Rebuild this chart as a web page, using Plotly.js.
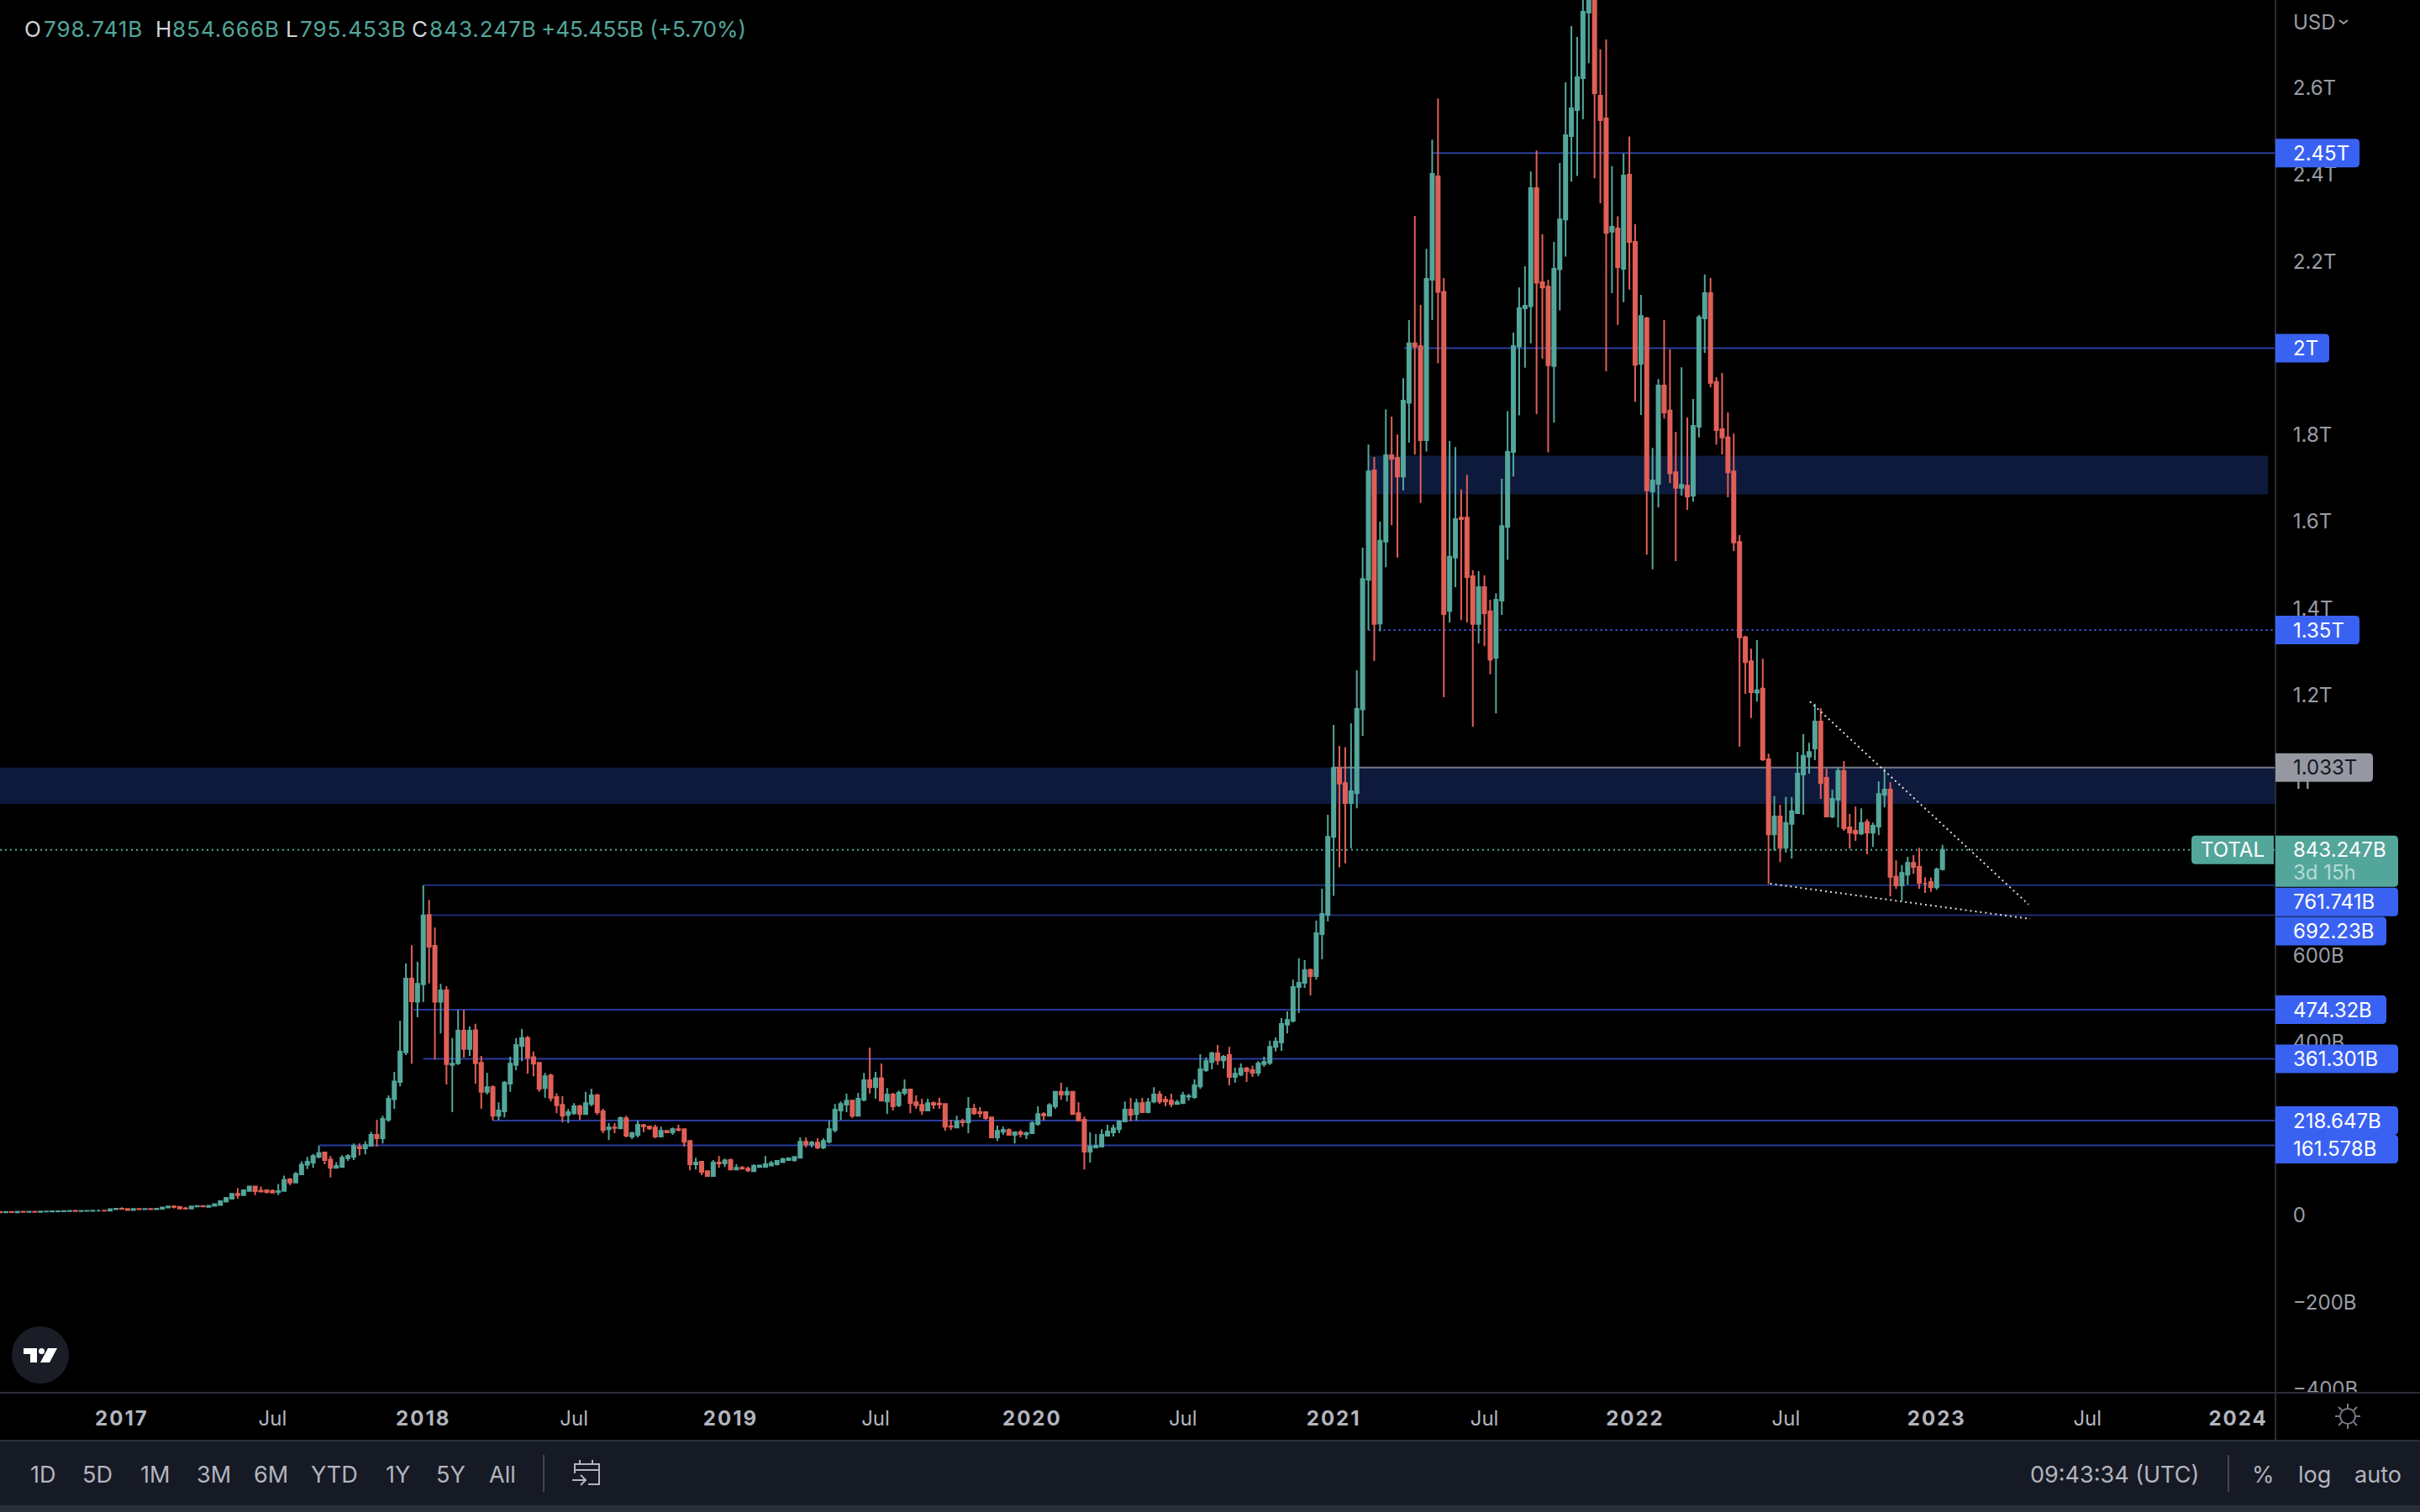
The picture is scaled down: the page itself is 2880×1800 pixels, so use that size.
<!DOCTYPE html>
<html>
<head>
<meta charset="utf-8">
<script src="https://cdn.plot.ly/plotly-3.0.1.min.js"></script>
<style>html,body{margin:0;padding:0;background:#000;overflow:hidden}#chart{width:2880px;height:1800px}</style>
</head>
<body>
<div id="chart"></div>
<script>
// Weekly TOTAL crypto market cap candles, USD billions, one value per week from firstWeek
const firstWeek = '2016-08-08';
const weekOpen = [
8.2,7.1,8,7.2,8.6,8.2,8.8,8.4,9,9.2,
9.4,9.6,10.2,10.6,10.2,10.6,10.8,11,11,10.9,
14.5,15.4,15,12.4,15,14.4,15,14.6,15.5,18.2,
20.8,20,16.2,15.8,20.8,21.6,20,22,24,32,
38.5,50,47,56.6,67,57,58,56.6,54,56.6,
83,76,95,117,122,135,145,129,110,112,
132,135,158,155,160.6,186,178,221,268,308,
376,546,493,533,693,622,493,519,347,351,
426,384,427,352,285,296,230,240,304,347,
391,409,365,352,294,323,273,255,232,236,
252,234,257,277,240,199,203,201,224,182,
186,208,205,203,182,195,191.5,199,199,172,
118,124,102,91,122,120,128,106,110,108,
102,112,112,115,118,123,128,127.6,133,170,
164,168,157,170,197,242,255.5,265,230,267,
312,296,316,263,279,254,283,290.5,261,255,
242,259,258,257,206,203,217,215,246,238,
238,226,180,193,197,186,191.6,187,190,211,
234,230,252,285,279,285,236,221,147,157,
159,184,191.6,199,217,244,234,259,238,263,
279,267,265,257,259,274,273,298,335,354,
374,358,370,319.5,325,339,335,329,349,352,
389,399,440,449,527,536.5,566,552,649,693.5,
873,1032,997,951,974,1167,1466,1718,1365,1554,
1753,1747,1704,1874,2011,2005,1788,2158,2396,2130,
1394,1517,1609,1609,1474,1364,1449,1393,1286,1418,
1588,1761,2004,2092,2097,2369,2152,2142,1959,2182,
2297,2489,2549,2623,2774,2880,2582,2530,2269,2276,
2183,2400,2245,1964,2069,1670,1687,1914,1856,1714,
1678,1683,1660,1819,2069,2127,1922,1813,1794,1716,
1553,1333,1278,1206,1215,1052,879,920,848,903,
928,1017,1058,1077,1139,1009,920,959,1025,895,
887,881,907,883,897,970,982,781,761,786,
813,804,765,769,757,798.741];
const weekHigh = [
8.6,8.4,9.6,8.8,10.2,10.4,10.4,10.2,10.2,10.8,
10.8,10.6,12.4,12.8,12.2,12.4,12.6,12.8,12.8,15.5,
16,19,16,15.5,17,16.6,17,15.8,18.6,21.4,
23.4,21,19.6,21.2,23,23.4,22.4,26.6,33.6,40.8,
51,63,59,68,68,67,60,60,72.7,92,
86,100,125,135,142,160.6,147,137,123,139,
141,166,166,171,193,221,230,277,331,449,
581,623,585,761,728,664,534,529,409,474,
474,436,442,368,329,300,261,310,366,409,
430,414,378,354,329,327,282,275,246,259,
255,285,292,281,246,213,213,228,230,193,
219,211,207,209,205,197,203,209,201,174,
133,124,104,128,137,131,131,118,114,113,
118,117,137,126,128,133,134,137,180,180,
172,178,178,219,257,263,281,267,283,329,
387,331,350.5,294,283,288,314,292,277,269,
269,263,271,259,220.6,230,223,273,257,250,
240,226,207,205,201,193,197,193,217,252,
238,259,285,306,296,287,261,228,191.6,188,
199,209,209,220,263,271,269,271,271,296,
287,275,281,267,285,281,314,372,364,377.6,
393,370,389,341,350.5,343,345,356,366,403,
410.6,455,470.6,544,593,589,569.5,680,753.6,924,
1131,1083,1080,1135,1257,1540,1778,1749,1600,1859,
1842,1801,1931,2065,2305,2100,2229,2481,2576,2162,
1786,1772,1674,1708,1488,1486,1476,1420,1435,1699,
1855,2036,2140,2189,2408,2456,2263,2158,2245,2427,
2613,2743,2718,2840,2960,2980,2689,2712,2420,2304,
2449,2488,2286,2123,2072,1770,1929,2065,1997,1807,
1956,1840,1883,2077,2170,2162,1933,1943,1852,1803,
1569,1337,1307,1327,1284,1065,967,947,965,965,
1069,1110,1090,1180,1170,1030,982,1034,1048,926,
943,939,914,906,1001,1030,999,819,808,827,
831,848,780,779,802,854.666];
const weekLow = [
6.8,6.9,6.9,6.6,6.8,6.8,7.2,7.2,7,7,
7.2,8.8,9.6,9,9,9.2,9.2,9.4,9.2,10.4,
14,13.6,12,12,12,12.4,12.6,13.4,15.2,18,
16.5,15.5,13.5,15.4,18.6,18.8,19.8,21.8,23.6,31.6,
37,38.5,45.6,55,46.9,53,51,52.6,46.9,56,
70,74,94.6,107,110,132,118,87.6,109,112,
126,127.6,138.6,141,159,159,166,216,246,298,
370,350,457,492,535,360,420,302,238,347,
364,368,304,246,279,219,220,226,285,335,
356,327,321,285,271,263,236,215,213,232,
221,234,252,232,190,174,190,201,180,176,
180,192,197,178,182,191,186,194,159,104,
106,93,91,91,110,112,106,106,106,100,
102,110,112,114,115,122,126,124,131.5,157,
157,153,153,166,191.6,220,238,224.5,228,263,
281,269,263,234,242,250,277,236,246,232,
242,246,246,195,197,203,205,190,232,226,
221,178,172,186,184,166,180,176,190,207,
219,230,246,267,263,232,219,106,122,155,
159,184,182,190,215,217,219,238,236,259,
257,252,250,255.5,259,265,269,292,331,337,
347,339,300,306,321,308,319.5,321,343,347,
378,379.6,420,445,467,525,507.5,544,591,678,
737,803,812,846,939,1106,1350,1279,1347,1495,
1592,1517,1672,1782,1755,1643,1762,2065,1965,1195,
1367,1449,1373,1367,1127,1319,1313,1248,1158,1385,
1512,1704,1845,1955,2011,1848,1976,1760,1828,2087,
2211,2384,2397,2528,2657,2392,2334,1947,2127,2054,
2106,2135,1876,1846,1524,1490,1633,1838,1689,1509,
1660,1627,1646,1794,1989,1910,1778,1755,1656,1532,
1081,1203,1147,1185,1048,764,841,815,837,823,
928,924,1019,1050,961,918,916,895,887,846,
864,877,833,850,877,941,736,753,726,763,
788,753,744,746,751,795.453];
const weekClose = [
7,8,7.8,8.6,8.2,8.8,8.4,9,9.2,9.4,
9.6,10.2,10.6,10.2,10.6,10.8,11,11,10.9,14.5,
15.5,15,12.4,15,14.4,15,14.6,15.5,18.2,21,
19.8,16,15.8,20.8,21.6,21,22,26,32.7,40.4,
50,47,57.9,67,56,55,54,52.8,56,82,
76,96,117,124,137,144,127.6,110,114,133,
137,160,155,162,186,178,222.6,269,309,378,
546,494,534,692,620,493,519,349,350,426,
384,426,351,285,296,230,242,306,350,393,
409,364,350,292,321,271,254,230,238,252,
234,259,277,238,197,203,202,224.5,184,190,
209,206,201,182,195,191.5,199,197,170,118,
122,100.5,91,122,120,127,106,110,108,104,
114,115,118,120.5,126,129.6,131.5,135,170,164,
168,157,172,199,244,257,265,230,269,312,
296,316,265,279,252,283,290.5,259,254,242,
259,255.5,256,205,205,217,215,246,236,236,
224.5,180,195,197,186,191.6,188,190,213,234,
231,254,285,279,285,234,219,147,159,160.6,
186,193.5,201,217,244,232,259,238,261,279,
263,263,257,261,277,275,300,337,356,374,
358,366,319.5,327,339,333,329,350.5,354,389,
401,441.6,451,527,536.5,565.6,552,651,695.5,873,
1032,996,951,978,1168,1468,1716,1364,1556,1753,
1745,1704,1879,2011,2004,1788,2160,2402,2130,1387,
1519,1606,1606,1472,1364,1449,1389,1282,1420,1590,
1761,2005,2092,2098,2369,2151,2140,1961,2183,2297,
2491,2553,2625,2776,2880,2588,2526,2266,2280,2187,
2398,2245,1962,2074,1672,1695,1914,1852,1712,1678,
1685,1658,1821,2071,2127,1920,1811,1794,1714,1552,
1333,1276,1207,1211,1052,879,920,848,905,932,
1019,1060,1069,1139,997,920,961,1025,893,883,
881,905,883,899,972,982,781,761,790,813,
804,767,765,757,798,843.247];

// Horizontal levels
const levelValues = [2450,2000,1350,1033,761.741,692.23,474.32,361.301,218.647,161.578];
const levelLabels = ['2.45T','2T','1.35T','1.033T','761.741B','692.23B','474.32B','361.301B','218.647B','161.578B'];
const levelStarts = ['2021-05-03','2021-03-30','2021-02-15','2021-01-04','2018-01-01','2018-01-11','2017-12-20','2018-01-01','2018-03-26','2017-08-28'];
const lastClose = 843.247, lastLabel = '843.247B', countdown = '3d 15h', symbol = 'TOTAL';

// Header readout
const headerLetters = ['O','H','L','C'];
const headerValues = ['798.741B','854.666B','795.453B','843.247B'];
const headerChange = '+45.455B (+5.70%)';

// Zones and trendlines [start, end, top/startValue, bottom/endValue]
const zoneA = ['2016-08-01','2024-02-20',1033,949];
const zoneB = ['2021-02-16','2024-02-06',1752,1663];
const wedgeUpper = ['2022-08-02','2023-04-23',1185,717];
const wedgeLower = ['2022-06-15','2023-04-25',765,684];

// Axis ticks (those fully covered by the level badges are left out)
const priceTicks = [-400,-200,0,400,600,1000,1200,1400,1600,1800,2200,2400,2600];
const priceTickText = ['\u2212400B','\u2212200B','0','400B','600B','1T','1.2T','1.4T','1.6T','1.8T','2.2T','2.4T','2.6T'];
const timeTicks = ['2017-01-02','2017-07-03','2018-01-01','2018-07-02','2019-01-07','2019-07-01','2020-01-06','2020-07-06','2021-01-04','2021-07-05','2022-01-03','2022-07-04','2023-01-02','2023-07-03','2024-01-01'];
const timeTickLabels = ['2017','Jul','2018','Jul','2019','Jul','2020','Jul','2021','Jul','2022','Jul','2023','Jul','2024'];
const rangeButtons = ['1D','5D','1M','3M','6M','YTD','1Y','5Y','All'];
const clockText = '09:43:34 (UTC)';

// ---- styling / layout ----
const xRange = ['2016-08-08','2024-02-15'];
const UP = '#53a69a', DOWN = '#e05f56', BLUE = '#3a62f2', AXIS = '#2a2e39', TXT = '#b2b5be', TICK = '#9a9da5';
const FONT = 'Inter, "Noto Sans", sans-serif';
const PW = 2708, PH = 1658;
const X = x => x / PW, Y = y => 1 - y / PH;
const weekDates = weekOpen.map((_, i) => new Date(Date.parse(firstWeek) + i * 7 * 86400000).toISOString().slice(0, 10));
const timeTickText = timeTickLabels.map(t => t === 'Jul' ? t : `<span style="letter-spacing:2px"><b>${t}</b></span>`);

const levelColors = ['#2c3f9f','#2c3f9f','#3d5ef0','#787b86','#1f2f7c','#1f2d70','#26389a','#2a3ca2','#2a3ca2','#2a3ca2'];
const levelDash = ['solid','solid','2px,4px','solid','solid','solid','solid','solid','solid','solid'];
const badgeWidths = [100,64,100,116,146,132,132,146,146,146];
const badgeShifts = [0,0,0,0,-20,-19,0,0,0,-4.4];

const shapes = [];
const hLine = (x0, x1, y0, y1, color, dash, layer) => shapes.push({type:'line', xref:'x', yref:'y', x0, x1, y0, y1, layer, line:{color, width:2, dash}});
const paperRect = (x0, y0, x1, y1, fill) => shapes.push({type:'rect', xref:'paper', yref:'paper', x0:X(x0), x1:X(x1), y0:Y(y0), y1:Y(y1), fillcolor:fill, line:{width:0}, layer:'above'});
const stroke = (d, color, w) => shapes.push({type:'path', xref:'paper', yref:'paper', path:d, line:{color, width:w}, layer:'above'});
const seg = pts => pts.map((p, i) => (i ? 'L ' : 'M ') + X(p[0]) + ' ' + Y(p[1])).join(' ');

[zoneA, zoneB].forEach(z => shapes.push({type:'rect', xref:'x', yref:'y', x0:z[0], x1:z[1], y0:z[3], y1:z[2], fillcolor:'#0e1a3c', line:{width:0}, layer:'below'}));
levelValues.forEach((v, i) => hLine(levelStarts[i], xRange[1], v, v, levelColors[i], levelDash[i], 'below'));
hLine(xRange[0], xRange[1], lastClose, lastClose, UP, '2px,4px', 'below');
[wedgeUpper, wedgeLower].forEach(w => hLine(w[0], w[1], w[2], w[3], '#dcdcdc', '2px,4px', 'above'));

// cover the clipped axis text, then the bottom chrome
paperRect(2708, 1658, 2880, 1714, '#000000');
paperRect(0, 1657, 2880, 1659, AXIS);
paperRect(2707, 0, 2709, 1714, AXIS);
paperRect(0, 1714, 2880, 1716, AXIS);
paperRect(0, 1716, 2880, 1792, '#161a25');
paperRect(0, 1792, 2880, 1800, AXIS);
paperRect(646, 1732, 648, 1776, '#434651');
paperRect(2651, 1732, 2653, 1776, '#434651');

// price badges
const badgePath = (w, t, b, r) => `M 0 ${t} H ${w-r} Q ${w} ${t} ${w} ${t-r} V ${b+r} Q ${w} ${b} ${w-r} ${b} H 0 Z`;
levelValues.forEach((v, i) => {
  const s = badgeShifts[i];
  shapes.push({type:'path', xref:'paper', yref:'y', xsizemode:'pixel', ysizemode:'pixel', xanchor:1, yanchor:v,
    path:badgePath(badgeWidths[i], s+17, s-17, 5), fillcolor:i===3?'#9598a1':BLUE, line:{width:0}, layer:'above'});
});
shapes.push({type:'path', xref:'paper', yref:'y', xsizemode:'pixel', ysizemode:'pixel', xanchor:1, yanchor:lastClose,
  path:badgePath(146, 17, -44, 5), fillcolor:UP, line:{width:0}, layer:'above'});
shapes.push({type:'path', xref:'paper', yref:'y', xsizemode:'pixel', ysizemode:'pixel', xanchor:1, yanchor:lastClose,
  path:'M -2 17 H -95 Q -100 17 -100 12 V -12 Q -100 -17 -95 -17 H -2 Z', fillcolor:UP, line:{width:0}, layer:'above'});

// calendar icon
stroke(seg([[684,1754],[684,1743],[713,1743],[713,1767],[700,1767]]), TXT, 2);
stroke(seg([[684,1750],[713,1750]]), TXT, 2);
stroke(seg([[690,1738],[690,1743]]), TXT, 2);
stroke(seg([[705,1738],[705,1743]]), TXT, 2);
stroke(seg([[681,1762],[697,1762]]), TXT, 2);
stroke(seg([[691,1756],[697,1762],[691,1768]]), TXT, 2);
// chevron next to USD
stroke(seg([[2784,24],[2789,28],[2794,24]]), TICK, 2);
// sun icon
shapes.push({type:'circle', xref:'paper', yref:'paper', x0:X(2785), x1:X(2803), y0:Y(1695), y1:Y(1677), line:{color:'#787b86', width:2}, layer:'above'});
[[0,-15,0,-10],[0,10,0,15],[-15,0,-10,0],[10,0,15,0],[-11,-11,-7,-7],[7,7,11,11],[-11,11,-7,7],[7,-7,11,-11]].forEach(r =>
  stroke(seg([[2794+r[0],1686+r[1]],[2794+r[2],1686+r[3]]]), '#787b86', 2));
// TradingView badge
shapes.push({type:'circle', xref:'paper', yref:'paper', x0:X(14), x1:X(82), y0:Y(1647), y1:Y(1579), fillcolor:'#1a1d26', line:{width:0}, layer:'above'});
shapes.push({type:'path', xref:'paper', yref:'paper', fillcolor:'#ffffff', line:{width:0}, layer:'above',
  path:seg([[28,1605],[44,1605],[44,1622],[36,1622],[36,1612],[28,1612]])+' Z'});
shapes.push({type:'path', xref:'paper', yref:'paper', fillcolor:'#ffffff', line:{width:0}, layer:'above',
  path:seg([[57,1605],[68,1605],[59,1622],[48,1622]])+' Z'});
shapes.push({type:'circle', xref:'paper', yref:'paper', x0:X(46), x1:X(53), y0:Y(1612), y1:Y(1605), fillcolor:'#ffffff', line:{width:0}, layer:'above'});

// text
const note = (text, x, y, size, color, anchor) => ({text, xref:'paper', yref:'paper', x:X(x), y:Y(y), xanchor:anchor||'center', yanchor:'middle', showarrow:false, borderpad:0, borderwidth:0, font:{family:FONT, size, color}});
const annotations = [];
const wide = s => `<span style="letter-spacing:1px">${s}</span>`;
const headerLetterX = [29,185,340,490], headerValueX = [52,205,357,511];
headerLetters.forEach((l, i) => {
  annotations.push(note(l, headerLetterX[i], 35, 26, '#d1d4dc', 'left'));
  annotations.push(note(wide(headerValues[i]), headerValueX[i], 35, 26, UP, 'left'));
});
annotations.push(note(headerChange, 644, 35, 26, UP, 'left'));
annotations.push(note('USD', 2729, 27, 24, TICK, 'left'));
const btnX = [51,116,184,254,322,398,473,536,598];
rangeButtons.forEach((b, i) => annotations.push(note(b, btnX[i], 1755, 27, TXT)));
annotations.push(note(clockText, 2516, 1755, 27, TXT));
annotations.push(note('%', 2693, 1755, 27, TXT));
annotations.push(note('log', 2754, 1755, 27, TXT));
annotations.push(note('auto', 2830, 1755, 27, TXT));
const priceNote = (text, v, shift, color) => ({text, xref:'paper', yref:'y', x:X(2729), y:v, yshift:shift, xanchor:'left', yanchor:'middle', showarrow:false, borderpad:0, borderwidth:0, font:{family:FONT, size:24, color}});
levelValues.forEach((v, i) => annotations.push(priceNote(levelLabels[i], v, badgeShifts[i], i===3?'#131722':'#ffffff')));
annotations.push(priceNote(lastLabel, lastClose, 0, '#ffffff'));
annotations.push(priceNote(countdown, lastClose, -27, '#b4dbd6'));
annotations.push({text:symbol, xref:'paper', yref:'y', x:X(2657), y:lastClose, xanchor:'center', yanchor:'middle', showarrow:false, borderpad:0, borderwidth:0, font:{family:FONT, size:24, color:'#ffffff'}});

const trace = {
  type:'candlestick', x:weekDates, open:weekOpen, high:weekHigh, low:weekLow, close:weekClose,
  increasing:{line:{color:UP, width:2}, fillcolor:UP},
  decreasing:{line:{color:DOWN, width:2}, fillcolor:DOWN},
  whiskerwidth:0, hoverinfo:'skip', showlegend:false
};
const layout = {
  width:2880, height:1800, paper_bgcolor:'#000000', plot_bgcolor:'#000000',
  margin:{l:0, r:172, t:0, b:142, pad:0}, boxgap:0.42, boxgroupgap:0, showlegend:false, dragmode:false,
  font:{family:FONT, color:TICK},
  xaxis:{type:'date', range:xRange, rangeslider:{visible:false}, showgrid:false, zeroline:false, showline:false,
    tickmode:'array', tickvals:timeTicks, ticktext:timeTickText, tickangle:0, ticks:'outside', ticklen:9, tickcolor:'rgba(0,0,0,0)',
    tickfont:{family:FONT, size:24, color:TXT}, fixedrange:true},
  yaxis:{side:'right', range:[-408.8,2803], showgrid:false, zeroline:false, showline:false,
    tickmode:'array', tickvals:priceTicks, ticktext:priceTickText, ticks:'outside', ticklen:15, tickcolor:'rgba(0,0,0,0)',
    tickfont:{family:FONT, size:24, color:TICK}, fixedrange:true},
  shapes, annotations
};
Plotly.newPlot('chart', [trace], layout, {displayModeBar:false, staticPlot:true});
</script>
</body>
</html>
